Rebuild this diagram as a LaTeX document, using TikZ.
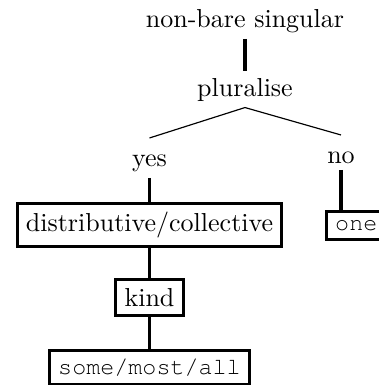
\documentclass[tikz,border=0pt]{standalone}
\usepackage[T1,TU]{fontenc}
\newcommand\courtext[1]{{\fontencoding{T1}\fontfamily{pcr}\fontseries{m}\fontshape{n}\selectfont\small #1}}
\begin{document}
\begin{tikzpicture}[x=0.3846pt,y=-0.3846pt,
  lbl/.style={inner sep=2.3pt},
  box/.style={draw,line width=1.2pt,inner sep=3.33pt},
  thickedge/.style={line width=1.2pt},
  thinedge/.style={line width=0.45pt}]
\useasboundingbox (0,0) rectangle (379,385);
\node[lbl,anchor=base] (top) at (245,27) {non-bare singular};
\node[lbl,anchor=base] (plur) at (245,96) {pluralise};
\node[lbl,anchor=base] (yes) at (149.5,166) {yes};
\node[lbl,anchor=base] (no) at (341,163) {no};
\node[box] (dc) at (149.5,225) {distributive/collective};
\node[box] (kind) at (149.5,297.5) {kind};
\node[box,anchor=north] (sma) at (149.5,349) {\courtext{some/most/all}};
\node[box,anchor=north west] (one) at (325,210) {\courtext{one}};
\draw[thickedge] (top.south) -- (plur.north);
\draw[thinedge] (plur.south) -- ([yshift=3.8pt]yes.north);
\draw[thinedge] (plur.south) -- ([yshift=3.8pt]no.north);
\draw[thickedge] (yes.south) -- (dc.north);
\draw[thickedge] (no.south) -- (no.south |- one.north);
\draw[thickedge] (dc.south) -- (kind.north);
\draw[thickedge] (kind.south) -- (sma.north);
\end{tikzpicture}
\end{document}
